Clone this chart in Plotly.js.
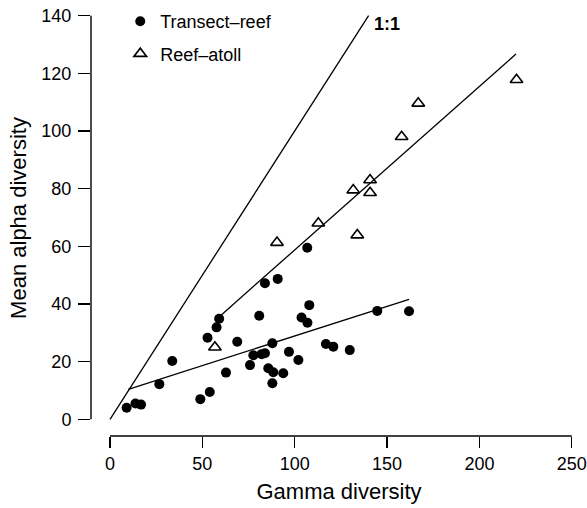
<!DOCTYPE html>
<html>
<head>
<meta charset="utf-8">
<script src="https://cdn.plot.ly/plotly-3.0.1.min.js"></script>
<style>html,body{margin:0;padding:0;background:#fff}#chart{width:587px;height:508px}</style>
</head>
<body>
<div id="chart"></div>
<script>
// Transect-reef (filled circles)
const transectGamma = [9.0, 13.8, 16.8, 26.7, 33.7, 48.9, 54.0, 52.8, 57.7, 59.1, 62.8, 68.9, 75.8, 77.6, 80.8, 82.1, 83.9, 83.9, 87.9, 85.7, 88.4, 87.9, 90.8, 93.8, 96.9, 102.0, 103.7, 106.9, 107.9, 106.8, 116.9, 120.9, 129.8, 144.7, 161.9];
const transectAlpha = [4.0, 5.5, 5.1, 12.2, 20.2, 7.0, 9.5, 28.3, 31.9, 34.9, 16.2, 26.9, 18.8, 22.2, 35.9, 22.6, 22.9, 47.2, 26.4, 17.7, 16.3, 12.5, 48.7, 16.0, 23.4, 20.6, 35.3, 33.5, 39.6, 59.5, 26.1, 25.2, 24.0, 37.6, 37.5];
// Reef-atoll (open triangles)
const atollGamma = [56.8, 90.4, 112.8, 131.7, 133.9, 140.8, 140.8, 157.9, 166.9, 220.1];
const atollAlpha = [25.0, 61.3, 68.0, 79.5, 63.9, 83.0, 78.6, 98.0, 109.6, 117.8];
// Fitted lines (endpoints)
const fitTransectX = [9.9, 161.9];
const fitTransectY = [10.4, 41.6];
const fitAtollX = [59.2, 219.8];
const fitAtollY = [35.6, 126.7];
const oneToOneX = [0, 140];
const oneToOneY = [0, 140];
// Ticks
const xTicks = [0, 50, 100, 150, 200, 250];
const yTicks = [0, 20, 40, 60, 80, 100, 120, 140];

const FONT = "Liberation Sans, Arial, Helvetica, sans-serif";
const lineStyle = {color: "black", width: 1.3};

const data = [
  {x: transectGamma, y: transectAlpha, type: "scatter", mode: "markers", name: "Transect\u2013reef",
   legendgroup: "a", marker: {symbol: "circle", size: 10, color: "black"}, cliponaxis: false},
  {x: atollGamma, y: atollAlpha, type: "scatter", mode: "markers", name: "Reef\u2013atoll",
   legendgroup: "b", marker: {symbol: "triangle-up-open", size: 11, color: "black", line: {color: "black", width: 1.6}}, cliponaxis: false},
  {x: oneToOneX, y: oneToOneY, type: "scatter", mode: "lines", line: lineStyle, showlegend: false, hoverinfo: "skip"},
  {x: fitTransectX, y: fitTransectY, type: "scatter", mode: "lines", line: lineStyle, showlegend: false, hoverinfo: "skip"},
  {x: fitAtollX, y: fitAtollY, type: "scatter", mode: "lines", line: lineStyle, showlegend: false, hoverinfo: "skip"}
];

const layout = {
  width: 587, height: 508,
  margin: {l: 91, r: 0, t: 0, b: 72},
  paper_bgcolor: "white", plot_bgcolor: "white",
  font: {family: FONT, size: 18, color: "black"},
  showlegend: true,
  legend: {x: 0.059, y: 0.993, xanchor: "left", yanchor: "top", font: {size: 18, family: FONT},
           tracegroupgap: 6, traceorder: "grouped", bgcolor: "rgba(0,0,0,0)"},
  xaxis: {range: [-10.29, 258.26], tickvals: xTicks, ticktext: xTicks.map(String),
          ticks: "outside", ticklen: 11, tickwidth: 1.4, tickcolor: "black",
          showline: false, zeroline: false, showgrid: false, automargin: false,
          tickfont: {size: 18, family: FONT},
          title: {text: "Gamma diversity", font: {size: 22, family: FONT}, standoff: 11}},
  yaxis: {range: [-5.79, 145.45], tickvals: yTicks, ticktext: yTicks.map(String),
          ticks: "outside", ticklen: 12, tickwidth: 1.4, tickcolor: "black",
          showline: false, zeroline: false, showgrid: false, automargin: false,
          ticklabelstandoff: 3,
          tickfont: {size: 18, family: FONT},
          title: {text: "Mean alpha diversity", font: {size: 22, family: FONT}, standoff: 8}},
  shapes: [
    {type: "line", xref: "x", yref: "paper", x0: 0, x1: 250, y0: 0, y1: 0, line: {color: "black", width: 1.4}},
    {type: "line", xref: "paper", yref: "y", x0: 0, x1: 0, y0: 0, y1: 140, line: {color: "black", width: 1.4}}
  ],
  annotations: [
    {x: 150, y: 137, xref: "x", yref: "y", text: "<b>1:1</b>", showarrow: false,
     font: {size: 18, family: FONT, color: "black"}, xanchor: "center", yanchor: "middle"}
  ]
};

Plotly.newPlot("chart", data, layout, {staticPlot: true, displayModeBar: false});
</script>
</body>
</html>
